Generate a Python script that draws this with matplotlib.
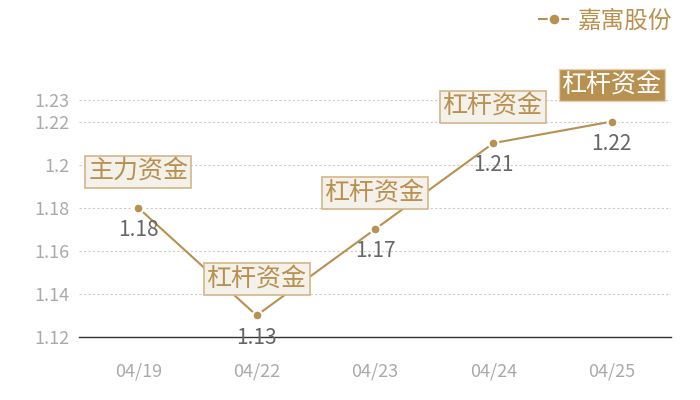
import numpy as np
import matplotlib.pyplot as plt

plt.rcParams['font.family'] = ['Noto Sans CJK SC', 'DejaVu Sans']

dates = ['04/19', '04/22', '04/23', '04/24', '04/25']
values = [1.18, 1.13, 1.17, 1.21, 1.22]
tags = ['主力资金', '杠杆资金', '杠杆资金', '杠杆资金', '杠杆资金']
highlight = [False, False, False, False, True]
yticks = [1.12, 1.14, 1.16, 1.18, 1.2, 1.22, 1.23]
series_name = '嘉寓股份'

gold = '#b8904f'

fig = plt.figure(figsize=(7, 4), dpi=100)
ax = fig.add_axes([79/700, 1 - 337/400, 592/700, 237/400])

x = np.arange(len(dates))
ax.plot(x, values, color=gold, lw=1.5, marker='o', ms=7,
        mfc=gold, mec='white', mew=1.5, label=series_name, zorder=3)

ax.set_xlim(-0.5, len(dates) - 0.5)
ax.set_ylim(1.12, 1.23)
ax.set_xticks(x)
ax.set_xticklabels(dates)
ax.set_yticks(yticks)
ax.set_yticklabels([f'{v:g}' for v in yticks])
ax.tick_params(axis='both', length=0, labelsize=13, colors='#aaaaaa')
ax.tick_params(axis='x', pad=18)
ax.tick_params(axis='y', pad=7)
ax.grid(axis='y', ls=(0, (2, 2)), color='#cccccc', lw=0.8)
for s in ['top', 'right', 'left']:
    ax.spines[s].set_visible(False)
ax.spines['bottom'].set_color('#333333')
ax.spines['bottom'].set_linewidth(1)
ax.spines['bottom'].set_zorder(4)

for xi, v, t, h in zip(x, values, tags, highlight):
    ax.annotate(f'{v:g}', (xi, v), xytext=(0, -16), textcoords='offset points',
                ha='center', va='center', fontsize=15, color='#666666', zorder=5)
    if h:
        box = dict(boxstyle='square,pad=0.12', fc=gold, ec='#e3d3b8', lw=1)
        tc = 'white'
    else:
        box = dict(boxstyle='square,pad=0.12', fc='#f4f0ea', ec='#d4b68a', lw=1.2)
        tc = gold
    ax.annotate(t, (xi, v), xytext=(0, 26), textcoords='offset points',
                ha='center', va='center', fontsize=18, color=tc, bbox=box, zorder=6)

leg = fig.legend(loc='upper right', bbox_to_anchor=(0.99, 1.03), frameon=False,
                 fontsize=17, handlelength=1.2, handletextpad=0.4, markerscale=1.2)
for txt in leg.get_texts():
    txt.set_color(gold)

fig.savefig('out.png', dpi=100)
